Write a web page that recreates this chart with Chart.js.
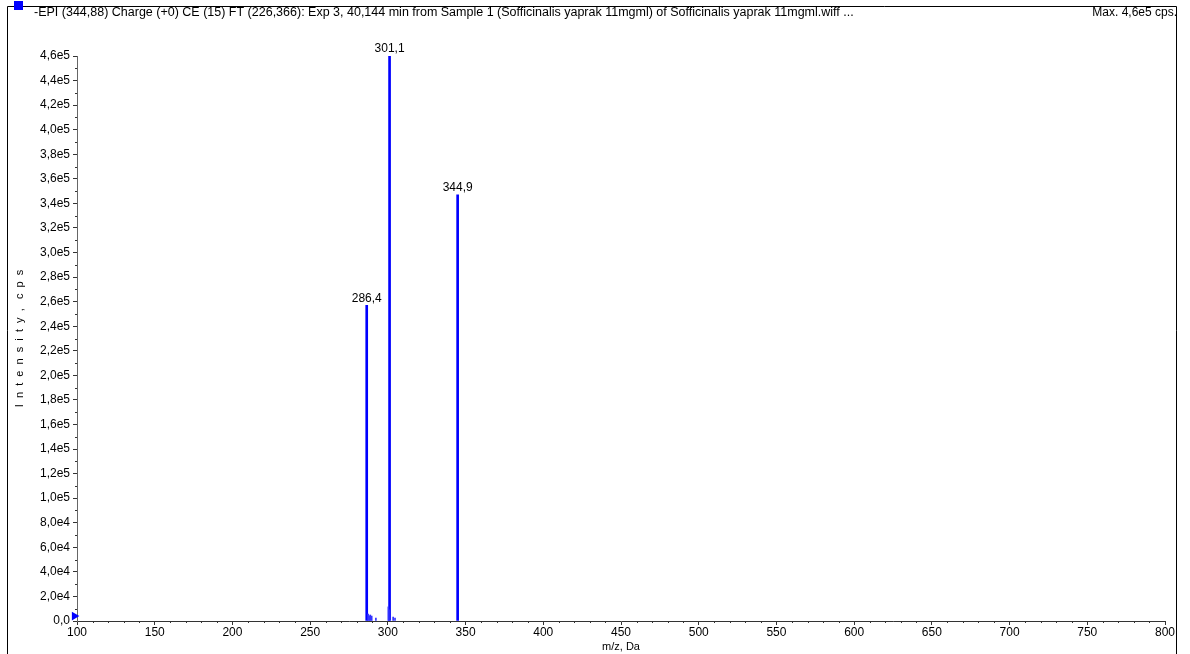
<!DOCTYPE html>
<html>
<head>
<meta charset="utf-8">
<script src="https://cdn.jsdelivr.net/npm/chart.js@4/dist/chart.umd.min.js"></script>
<style>
html,body{margin:0;padding:0;background:#fff;}
#wrap{position:relative;width:1190px;height:654px;}
canvas{display:block;}
</style>
</head>
<body>
<div id="wrap"><canvas id="c" width="1190" height="654"></canvas></div>
<script>
// ---- data ----
const headerText = "-EPI (344,88) Charge (+0) CE (15) FT (226,366): Exp 3, 40,144 min from Sample 1 (Sofficinalis yaprak 11mgml) of Sofficinalis yaprak 11mgml.wiff ...";
const maxText = "Max. 4,6e5 cps.";
const yTitle = "I  n  t  e  n  s  i  t  y  ,   c  p  s";
const xTitle = "m/z, Da";
const mainPeakMz = [286.4, 301.1, 344.9];
const mainPeakIntensity = [257000, 460000, 347000];
const minorPeakMz = [287.3, 288.0, 288.7, 289.6, 292.3, 300.3, 300.7, 303.4, 304.6];
const minorPeakIntensity = [5700, 4200, 4900, 4000, 2400, 11500, 9000, 3200, 2400];
const labelText = ["286,4", "301,1", "344,9"];
const xMin = 100, xMax = 800, xStep = 50, xMinorStep = 10;
const yMin = 0, yMax = 460000, yStep = 20000, yMinorStep = 10000;
const markerPoint = [{x: 98.3, y: 4000}];

const FONT = "'Liberation Sans', Arial, sans-serif";

const mainData = mainPeakMz.map((m, i) => ({x: m, y: mainPeakIntensity[i]}));
const minorData = minorPeakMz.map((m, i) => ({x: m, y: minorPeakIntensity[i]}));

const decorPlugin = {
  id: 'decor',
  beforeDraw(chart) {
    const ctx = chart.ctx;
    ctx.save();
    ctx.fillStyle = '#fff';
    ctx.fillRect(0, 0, chart.width, chart.height);
    // frame
    ctx.strokeStyle = '#000';
    ctx.lineWidth = 1;
    ctx.beginPath();
    ctx.moveTo(7.5, 654); ctx.lineTo(7.5, 6.5); ctx.lineTo(1176.5, 6.5); ctx.lineTo(1176.5, 654);
    ctx.stroke();
    // header
    ctx.fillStyle = '#0000ff';
    ctx.fillRect(14, 1, 9, 9);
    ctx.font = "12.5px " + FONT;
    ctx.fillStyle = '#000';
    ctx.textBaseline = 'middle';
    ctx.textAlign = 'left';
    ctx.fillText(headerText, 34, 13);
    ctx.font = "12px " + FONT;
    ctx.textAlign = 'right';
    ctx.fillText(maxText, 1177, 13);
    ctx.restore();
  },
  afterDraw(chart) {
    const ctx = chart.ctx;
    const xs = chart.scales.x, ys = chart.scales.y;
    ctx.save();
    ctx.strokeStyle = '#333';
    ctx.lineWidth = 1;
    ctx.beginPath();
    // minor y ticks
    for (let v = yMin; v <= yMax; v += yMinorStep) {
      if (v % yStep === 0) continue;
      const py = Math.round(ys.getPixelForValue(v)) + 0.5;
      ctx.moveTo(ys.right - 2, py); ctx.lineTo(ys.right, py);
    }
    // minor x ticks
    for (let v = xMin; v <= xMax; v += xMinorStep) {
      if (v % xStep === 0) continue;
      const px = Math.round(xs.getPixelForValue(v)) + 0.5;
      ctx.moveTo(px, xs.top); ctx.lineTo(px, xs.top + 2);
    }
    ctx.stroke();
    // peak labels
    ctx.font = "12px " + FONT;
    ctx.fillStyle = '#000';
    ctx.textAlign = 'center';
    ctx.textBaseline = 'bottom';
    mainPeakMz.forEach((m, i) => {
      ctx.fillText(labelText[i], xs.getPixelForValue(m), ys.getPixelForValue(mainPeakIntensity[i]) - 1);
    });
    ctx.restore();
  }
};

new Chart(document.getElementById('c'), {
  type: 'bar',
  data: {
    datasets: [
      {
        type: 'scatter',
        data: markerPoint,
        pointStyle: 'triangle',
        rotation: 90,
        radius: 5,
        backgroundColor: '#0000ff',
        borderColor: '#0000ff',
        borderWidth: 0,
        clip: false
      },
      {
        data: minorData,
        backgroundColor: '#3333ff',
        borderWidth: 0,
        barThickness: 1,
        grouped: false
      },
      {
        data: mainData,
        backgroundColor: '#0000ff',
        borderWidth: 0,
        barThickness: 2,
        grouped: false
      }
    ]
  },
  options: {
    responsive: false,
    animation: false,
    events: [],
    layout: {padding: {left: 0, right: 25, top: 56, bottom: 0}},
    plugins: {legend: {display: false}, tooltip: {enabled: false}},
    scales: {
      x: {
        type: 'linear',
        min: xMin, max: xMax,
        offset: false,
        afterFit(scale) { scale.height = 33; },
        ticks: {
          stepSize: xStep,
          autoSkip: false,
          maxRotation: 0,
          padding: 0,
          color: '#000',
          font: {family: FONT, size: 12}
        },
        grid: {display: true, drawOnChartArea: false, drawTicks: true, tickLength: 4, tickColor: '#333', offset: false},
        border: {display: true, color: '#333', width: 1},
        title: {display: true, text: xTitle, color: '#000', font: {family: FONT, size: 11}, padding: {top: 0, bottom: 0}}
      },
      y: {
        type: 'linear',
        min: yMin, max: yMax,
        afterFit(scale) { scale.width = 77; },
        ticks: {
          stepSize: yStep,
          autoSkip: false,
          padding: 3,
          color: '#000',
          font: {family: FONT, size: 12},
          callback: v => v === 0 ? '0,0' : Number(v).toExponential(1).replace('.', ',').replace('e+', 'e')
        },
        grid: {display: true, drawOnChartArea: false, drawTicks: true, tickLength: 4, tickColor: '#333'},
        border: {display: true, color: '#666', width: 1},
        title: {display: true, text: yTitle, color: '#000', font: {family: FONT, size: 11}, padding: {top: 13, bottom: 0}}
      }
    }
  },
  plugins: [decorPlugin]
});
</script>
</body>
</html>
